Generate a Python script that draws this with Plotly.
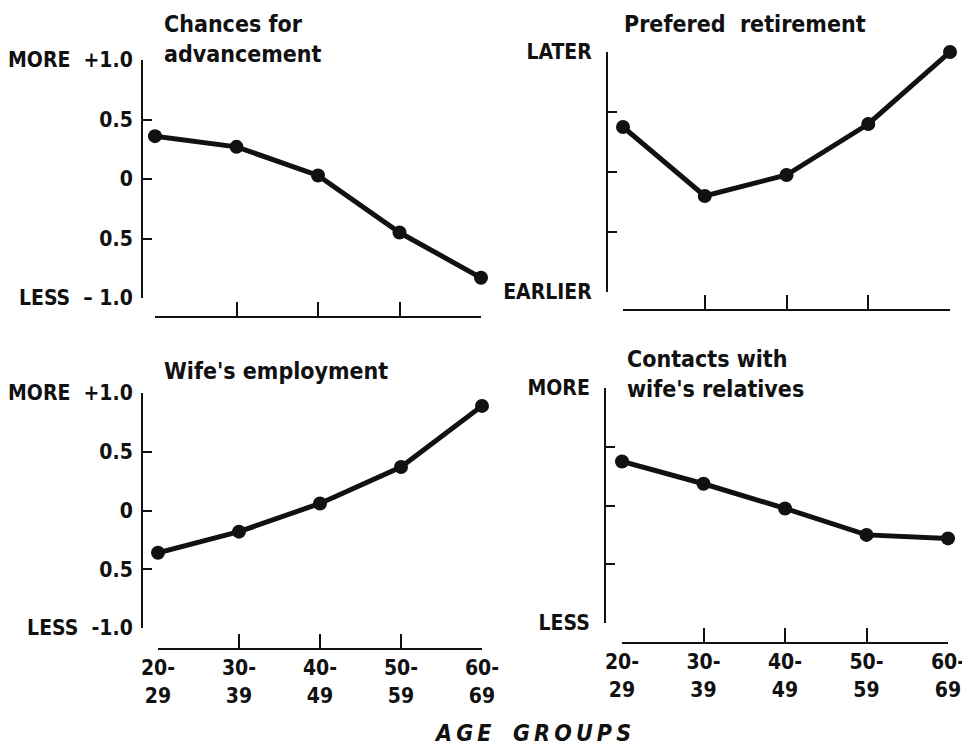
import plotly.graph_objects as go

# the page body keeps its 8 px margin, so the figure starts 8 px in
OFF = 8
W, H = 970 - OFF, 748 - OFF

age_groups = ['20-<br>29', '30-<br>39', '40-<br>49', '50-<br>59', '60-<br>69']
age_pos = [0, 1, 2, 3, 4]

advancement = [0.36, 0.27, 0.03, -0.45, -0.83]
retirement = [2.75, 1.6, 1.95, 2.8, 4.0]
wife_employment = [-0.36, -0.18, 0.06, 0.37, 0.89]
wife_relatives = [2.75, 2.37, 1.95, 1.5, 1.44]

NB = '\u00a0'
score_ticks = [-1, -0.5, 0, 0.5, 1]
score_text = ['LESS' + NB * 2 + '\u2013' + NB + '1.0', '0.5', '0', '0.5', 'MORE' + NB * 2 + '+1.0']
score_text_b = ['LESS' + NB * 2 + '-1.0', '0.5', '0', '0.5', 'MORE' + NB * 2 + '+1.0']
scale_ticks = [0, 1, 2, 3, 4]
retire_text = ['EARLIER', '', '', '', 'LATER']
relatives_text = ['LESS', '', '', '', 'MORE']

FONT = 'DejaVu Sans Condensed, Liberation Sans Narrow, sans-serif'
INK = '#111111'


def px(x):
    return (x - OFF) / W


def py(y):
    return 1 - (y - OFF) / H


# pixel geometry: x domain, y domain (top, bottom), y-axis x, x-axis y
panels = [
    dict(values=advancement, xd=(155, 481), yd=(60, 298), yx=142, xy=317,
         yr=[-1, 1], tv=score_ticks, tt=score_text, labels=False, so=4),
    dict(values=retirement, xd=(623, 950), yd=(52, 292), yx=607, xy=310,
         yr=[0, 4], tv=scale_ticks, tt=retire_text, labels=False, so=10),
    dict(values=wife_employment, xd=(158, 482), yd=(393, 628), yx=142, xy=649,
         yr=[-1, 1], tv=score_ticks, tt=score_text_b, labels=True, so=4),
    dict(values=wife_relatives, xd=(622, 948), yd=(388, 623), yx=605, xy=643,
         yr=[0, 4], tv=scale_ticks, tt=relatives_text, labels=True, so=10),
]

fig = go.Figure()
layout = {}
for i, p in enumerate(panels, start=1):
    sfx = '' if i == 1 else str(i)
    fig.add_trace(go.Scatter(
        x=age_pos,
        y=p['values'],
        xaxis='x' + sfx,
        yaxis='y' + sfx,
        mode='lines+markers',
        line=dict(color=INK, width=5),
        marker=dict(color=INK, size=14),
        cliponaxis=False,
        showlegend=False,
    ))
    layout['xaxis' + sfx] = dict(
        domain=[px(p['xd'][0]), px(p['xd'][1])],
        anchor='free', position=py(p['xy']), automargin=False,
        range=[0, 4], tickvals=age_pos,
        ticktext=age_groups if p['labels'] else [''] * 5,
        showticklabels=p['labels'],
        ticks='inside', ticklen=14, tickwidth=2, tickcolor=INK,
        showline=True, linewidth=2, linecolor=INK,
        showgrid=False, zeroline=False, fixedrange=True,
        tickfont=dict(family=FONT, size=21, color=INK, weight='bold'),
    )
    layout['yaxis' + sfx] = dict(
        domain=[py(p['yd'][1]), py(p['yd'][0])],
        anchor='free', position=px(p['yx']), automargin=False,
        range=p['yr'], tickvals=p['tv'], ticktext=p['tt'],
        ticks='inside', ticklen=9, tickwidth=2, tickcolor=INK,
        ticklabelstandoff=p['so'],
        showline=True, linewidth=2, linecolor=INK,
        showgrid=False, zeroline=False, fixedrange=True,
        tickfont=dict(family=FONT, size=21, color=INK, weight='bold'),
    )

titles = [
    ('Chances for<br>advancement', 162, 9),
    ('Prefered' + NB * 2 + 'retirement', 622, 9),
    ("Wife's employment", 162, 356),
    ("Contacts with<br>wife's relatives", 625, 344),
]
annotations = [
    dict(text=t, x=px(x), y=py(y), xref='paper', yref='paper',
         xanchor='left', yanchor='top', align='left', showarrow=False,
         font=dict(family=FONT, size=23, color=INK, weight='bold'))
    for t, x, y in titles
]
TS = '\u2009'
annotations.append(dict(
    text='<i>' + TS.join('AGE') + NB * 3 + TS.join('GROUPS') + '</i>',
    x=px(532), y=py(733), xref='paper', yref='paper',
    xanchor='center', yanchor='middle', showarrow=False,
    font=dict(family=FONT, size=23, color=INK, weight='bold'),
))

fig.update_layout(
    width=W, height=H,
    margin=dict(l=0, r=0, t=0, b=0),
    paper_bgcolor='white', plot_bgcolor='white',
    font=dict(family=FONT, color=INK, weight='bold'),
    annotations=annotations,
    **layout,
)

fig.write_html('out.html')
